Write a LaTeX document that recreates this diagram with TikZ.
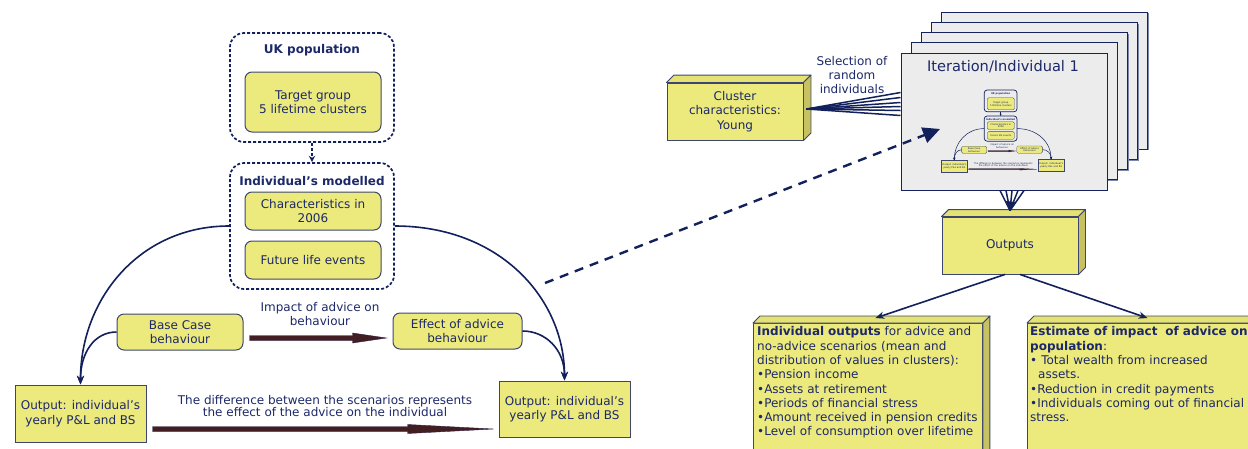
\documentclass[tikz,border=0pt]{standalone}
\usepackage{fontspec}
\setmainfont{DejaVu Sans}
\usetikzlibrary{arrows.meta,calc,shadows}
\definecolor{navy}{RGB}{18,32,92}
\definecolor{txtnavy}{RGB}{28,40,104}
\definecolor{yel}{RGB}{236,234,124}
\definecolor{yelside}{RGB}{198,194,98}
\definecolor{yeltop}{RGB}{228,226,115}
\definecolor{ybord}{RGB}{62,70,112}
\definecolor{pagefill}{RGB}{236,236,236}
\definecolor{pagebord}{RGB}{20,34,96}
\definecolor{pageshadow}{RGB}{125,135,170}
\definecolor{arrbrown}{RGB}{66,30,34}
\definecolor{arredge}{RGB}{45,30,70}

\tikzset{
 every node/.style={text=txtnavy, font=\fontsize{12}{14.5}\selectfont},
 dashbox/.style={draw=navy, line width=1.7pt, dash pattern=on 3pt off 2pt, rounded corners=14pt, inner sep=0pt},
 ybox/.style={draw=ybord, fill=yel, line width=1pt, rounded corners=7pt, align=center, inner sep=0pt},
 obox/.style={draw=ybord, fill=yel, line width=1pt, align=center, inner sep=0pt},
 titletext/.style={font=\bfseries\fontsize{12}{14.5}\selectfont},
 plaintext/.style={align=center, inner sep=0pt},
 tighttext/.style={align=center, inner sep=0pt, font=\fontsize{12}{11.7}\selectfont},
 curve/.style={draw=navy, line width=1.6pt, -{Stealth[length=0pt 5.5, width=0pt 4.5]}},
 dconn/.style={draw=navy, line width=1.6pt, dash pattern=on 3pt off 2pt, -{Stealth[length=0pt 4, width=0pt 4]}},
 bigarr/.style={fill=arrbrown, draw=arredge, line width=0.4pt, line join=miter},
 thumb/.style={transform shape,
   dashbox/.append style={solid, line width=0.7pt, rounded corners=3pt},
   ybox/.append style={line width=0.3pt, rounded corners=1.4pt},
   obox/.append style={line width=0.3pt},
   curve/.append style={line width=0.5pt},
   dconn/.append style={solid, line width=0.5pt},
   bigarr/.append style={line width=0.1pt}},
 cube/.style={draw=ybord, fill=yel, line width=0.9pt, align=center, inner sep=0pt},
 topface/.style={draw=ybord, fill=yeltop, line width=0.9pt, line join=round},
 sideface/.style={draw=ybord, fill=yelside, line width=0.9pt, line join=round},
 page/.style={draw=pagebord, fill=pagefill, line width=1pt, minimum width=206pt, minimum height=137pt, inner sep=0pt,
   general shadow={shadow xshift=1.2pt, shadow yshift=-1.2pt, fill=pageshadow}},
 fan/.style={draw=navy, line width=1.5pt},
 outarrow/.style={draw=navy, line width=1.6pt, -{Stealth[length=0pt 5.5, width=0pt 4.5]}},
 bigdash/.style={draw=navy, line width=2.4pt, dash pattern=on 9pt off 7pt, -{Triangle[length=17pt,width=16pt]}},
 listtext/.style={align=left, inner sep=0pt, anchor=north west, text width=232pt, font=\fontsize{12}{14.3}\selectfont}
}

\newcommand\advdiag[1]{%
 \node[dashbox, minimum width=164pt, minimum height=109pt] (#1uk) at (312,87.5) {};
 \node[titletext] (#1ukt) at (312,50) {UK population};
 \node[ybox, minimum width=136pt, minimum height=60pt] (#1tg) at (313,102) {Target group\\5 lifetime clusters};
 \node[dashbox, minimum width=164pt, minimum height=126pt] (#1dm) at (312,226) {};
 \node[titletext] (#1dmt) at (312,181) {Individual’s modelled};
 \node[ybox, minimum width=136pt, minimum height=38pt] (#1ch) at (313,211) {Characteristics in\\2006};
 \node[ybox, minimum width=136pt, minimum height=38pt] (#1fl) at (313,260) {Future life events};
 \node[ybox, minimum width=126pt, minimum height=36pt] (#1bc) at (180,332) {Base Case\\behaviour};
 \node[ybox, minimum width=129pt, minimum height=36pt] (#1ef) at (457.5,331) {Effect of advice\\behaviour};
 \node[obox, minimum width=131pt, minimum height=57pt] (#1lo) at (80.5,413.5) {Output: individual’s\\yearly P\&L and BS};
 \node[obox, minimum width=131pt, minimum height=56pt] (#1ro) at (564.5,409) {Output: individual’s\\yearly P\&L and BS};
 \node[plaintext] (#1imp) at (320,314) {Impact of advice on\\behaviour};
 \node[tighttext] (#1dif) at (325,406) {The difference between the scenarios represents\\the effect of the advice on the individual};
 \draw[dconn] (#1uk.south) -- (#1dm.north);
 \draw[curve] (#1dm.west) .. controls +(-90,0) and +(0,-85) .. (#1lo.north);
 \draw[curve] (#1bc.west) .. controls +(-22,0) and +(0,-32) .. (#1lo.north);
 \draw[curve] (#1dm.east) .. controls +(106,0) and +(0,-81) .. (#1ro.north);
 \draw[curve] (#1ef.east) .. controls +(23,0) and +(0,-31) .. (#1ro.north);
 \filldraw[bigarr] (#1bc.east) ++(6,3.5) -- ++(103,0) -- ++(0,-2.5) -- ++(34,5) -- ++(-34,5) -- ++(0,-2.5) -- ++(-103,0) -- cycle;
 \filldraw[bigarr] (#1lo.east |- 0,429) ++(6,-2.5) -- ++(255,0) -- ++(0,-2) -- ++(86,4.5) -- ++(-86,4.5) -- ++(0,-2) -- ++(-255,0) -- cycle;
}

\newcommand\cubefaces[2]{%
 \filldraw[topface] (#1.north west) -- ++(#2,-#2) -- ($(#1.north east)+(#2,-#2)$) -- (#1.north east) -- cycle;
 \filldraw[sideface] (#1.north east) -- ++(#2,-#2) -- ($(#1.south east)+(#2,-#2)$) -- (#1.south east) -- cycle;
}

\begin{document}
\begin{tikzpicture}[x=1pt,y=-1pt]
\useasboundingbox (0,0) rectangle (1248,448);
\clip (0,0) rectangle (1248,448);

% left diagram
\advdiag{m}

% stacked pages
\node[page] (p5) at (1044.8,80.5) {};
\node[page] (p4) at (1034.6,90.8) {};
\node[page] (p3) at (1024.4,101) {};
\node[page] (p2) at (1014.2,111.2) {};
\node[page] (p1) at (1004,121.5) {};
\node[font=\fontsize{14.6}{17}\selectfont] (itt) at (1003,67) {Iteration/Individual 1};
\begin{scope}[shift={(938.2,83.4)}, scale=0.2, thumb]
 \advdiag{t}
\end{scope}

% cluster box
\node[cube, minimum width=136pt, minimum height=57pt] (cl) at (735,111.5) {Cluster\\characteristics:\\Young};
\cubefaces{cl}{7.5}
\node[plaintext, font=\fontsize{12}{14}\selectfont] (sel) at (852,75) {Selection of\\random\\individuals};
\foreach \dy in {40,45,50,54,58,63}
  \draw[fan] ([xshift=3pt,yshift=2.5pt]cl.east) -- ($(p1.north west)+(0,\dy)$);

% outputs
\node[cube, minimum width=136pt, minimum height=57pt] (out) at (1010,245.5) {Outputs};
\cubefaces{out}{7}
\foreach \dx in {-4,2,14,20}
  \draw[fan] ([xshift=\dx pt]p1.south) -- ([yshift=6pt]out.north);
\draw[fan, -{Triangle[length=9pt,width=10pt]}] ([xshift=8pt]p1.south) -- ([yshift=6pt]out.north);

% bottom boxes
\node[cube, minimum width=229pt, minimum height=140pt, anchor=north west] (io) at (753,323) {};
\cubefaces{io}{7}
\node[listtext] (iot) at (757,326.5) {\textbf{Individual outputs} for advice and\\no-advice scenarios (mean and\\distribution of values in clusters):\\•Pension income\\•Assets at retirement\\•Periods of financial stress\\•Amount received in pension credits\\•Level of consumption over lifetime};
\node[cube, minimum width=229pt, minimum height=140pt, anchor=north west] (es) at (1027,323) {};
\cubefaces{es}{7}
\node[listtext] (est) at (1030,326.5) {\textbf{Estimate of impact\ \ of advice on}\\\textbf{population}:\\• Total wealth from increased\\\hspace*{8pt}assets.\\•Reduction in credit payments\\•Individuals coming out of financial\\stress.};
\draw[outarrow] ([xshift=-5pt]out.south) -- ([xshift=7.5pt,yshift=5pt]io.north);
\draw[outarrow] ([xshift=10pt]out.south) -- ([xshift=5.5pt,yshift=5pt]es.north);

% dashed arrow into iteration
\coordinate (dstart) at (545,283);
\coordinate (dend) at (940,129);
\draw[bigdash] (dstart) -- (dend);
\end{tikzpicture}
\end{document}
